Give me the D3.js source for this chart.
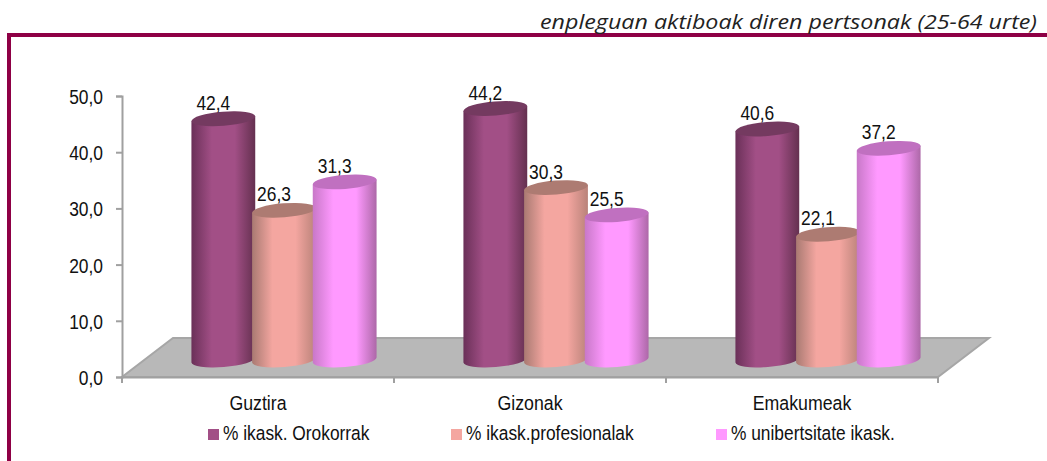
<!DOCTYPE html>
<html>
<head>
<meta charset="utf-8">
<script src="https://cdn.jsdelivr.net/npm/d3@7"></script>
<style>
  html, body { margin: 0; padding: 0; background: #fff; }
  svg { display: block; }
  text { font-family: "Liberation Sans", Arial, sans-serif; fill: #111; }
</style>
</head>
<body>
<script>
const categories = ["Guztira", "Gizonak", "Emakumeak"];
const seriesNames = ["% ikask. Orokorrak", "% ikask.profesionalak", "% unibertsitate ikask."];
const orokorrak = [42.4, 44.2, 40.6];
const profesionalak = [26.3, 30.3, 22.1];
const unibertsitate = [31.3, 25.5, 37.2];
const yTicks = [0, 10, 20, 30, 40, 50];
const titleText = "enpleguan aktiboak diren pertsonak (25-64 urte)";

const seriesValues = [orokorrak, profesionalak, unibertsitate];
const seriesColors = [
    { id: "plum", dark: "#6a3058", mid: "#a24f86", end: "#64304f", top: "#743a60", legend: "#a24f86" },
    { id: "salmon", dark: "#a97a72", mid: "#f4a6a0", end: "#b98279", top: "#ad7b72", legend: "#f4a6a0" },
    { id: "pink", dark: "#c878c8", mid: "#ff99ff", end: "#ad68a8", top: "#c070c0", legend: "#ff99ff" }
];

const width = 1047, height = 461;
const numFmt = v => v.toFixed(1).replace(".", ",");

const svg = d3.select("body").append("svg")
    .attr("width", width)
    .attr("height", height);

const defs = svg.append("defs");
seriesColors.forEach(c => {
    const g = defs.append("linearGradient").attr("id", "grad-" + c.id);
    g.append("stop").attr("offset", "0%").attr("stop-color", c.dark);
    g.append("stop").attr("offset", "32%").attr("stop-color", c.mid);
    g.append("stop").attr("offset", "68%").attr("stop-color", c.mid);
    g.append("stop").attr("offset", "100%").attr("stop-color", c.end);
});

// frame
const frameColor = "#8e0045";
svg.append("rect").attr("x", 7).attr("y", 33).attr("width", width - 7).attr("height", 4).attr("fill", frameColor);
svg.append("rect").attr("x", 7).attr("y", 33).attr("width", 4).attr("height", height - 33).attr("fill", frameColor);

svg.append("text")
    .attr("x", 1037)
    .attr("y", 29)
    .attr("text-anchor", "end")
    .attr("textLength", 497)
    .attr("lengthAdjust", "spacingAndGlyphs")
    .style("font-family", "'Open Sans'")
    .style("font-style", "italic")
    .style("font-size", "20px")
    .style("fill", "#222")
    .text(titleText);

// scales
const x = d3.scaleBand().domain(categories).range([122, 938]);
const y = d3.scaleLinear().domain([0, 50]).range([377, 96]);
// the 3d bars stand further back on the floor
const barY = d3.scaleLinear().domain([0, 50]).range([360, 75.5]);
const depthX = 51, depthY = -39;
const inner = d3.scaleBand().domain(d3.range(3)).range([-91, 91]);

// floor
const floorLine = [
    [x.range()[0], y(0)],
    [x.range()[1], y(0)],
    [x.range()[1] + depthX, y(0) + depthY],
    [x.range()[0] + depthX, y(0) + depthY]
];
svg.append("polygon")
    .attr("points", floorLine.join(" "))
    .attr("fill", "#b8b8b8")
    .attr("stroke", "#a6a6a6")
    .attr("stroke-width", 2);

// axes
const axisColor = "#a0a0a0";
const yAxis = svg.append("g")
    .attr("transform", `translate(${x.range()[0]},0)`)
    .call(d3.axisLeft(y).tickValues(yTicks).tickSize(6).tickPadding(0).tickFormat(() => ""));
yAxis.selectAll("path, line").attr("stroke", axisColor).attr("stroke-width", 2);

const xAxis = svg.append("g")
    .attr("transform", `translate(0,${y(0)})`)
    .call(d3.axisBottom(x).tickValues([]).tickSize(0));
xAxis.select("path").attr("stroke", axisColor).attr("stroke-width", 2);

svg.selectAll(".xtick")
    .data(d3.range(categories.length + 1))
    .enter().append("line")
    .attr("class", "xtick")
    .attr("x1", i => x.range()[0] + i * x.bandwidth())
    .attr("x2", i => x.range()[0] + i * x.bandwidth())
    .attr("y1", y(0))
    .attr("y2", y(0) + 6)
    .attr("stroke", axisColor)
    .attr("stroke-width", 2);

const squeezed = (sel, px, py, size, sx) => sel
    .attr("transform", `translate(${px},${py}) scale(${sx},1)`)
    .style("font-size", size + "px");

yTicks.forEach(t => {
    svg.append("text")
        .attr("text-anchor", "end")
        .call(squeezed, 103, y(t) + 8, 20, 0.87)
        .text(numFmt(t));
});

categories.forEach(c => {
    svg.append("text")
        .attr("text-anchor", "middle")
        .call(squeezed, x(c) + x.bandwidth() / 2, 410, 19.5, 0.91)
        .text(c);
});

// cylinders
const rx = 32, ry = 7, tilt = -4.5;
const ex = rx * Math.cos(tilt * Math.PI / 180);
const ey = rx * Math.sin(tilt * Math.PI / 180);
const barCx = (c, si) => x(c) + x.bandwidth() / 2 + depthX / 2 + 0.5 + inner(si) + inner.bandwidth() / 2;

categories.forEach((c, ci) => {
    seriesValues.forEach((vals, si) => {
        const v = vals[ci];
        const cx = barCx(c, si);
        const top = barY(v), base = barY(0);
        const col = seriesColors[si];

        svg.append("path")
            .attr("d", `M${cx - ex},${top - ey} L${cx - ex},${base - ey} ` +
                `A${rx},${ry} ${tilt} 0 0 ${cx + ex},${base + ey} L${cx + ex},${top + ey} Z`)
            .attr("fill", `url(#grad-${col.id})`);

        svg.append("ellipse")
            .attr("transform", `translate(${cx},${top}) rotate(${tilt})`)
            .attr("rx", rx)
            .attr("ry", ry)
            .attr("fill", col.top);
    });
});

// value labels sit on top of every bar
categories.forEach((c, ci) => {
    seriesValues.forEach((vals, si) => {
        svg.append("text")
            .attr("text-anchor", "middle")
            .call(squeezed, barCx(c, si) - 10, barY(vals[ci]) - 9, 20, 0.87)
            .text(numFmt(vals[ci]));
    });
});

// legend
const legendX = [208, 451, 716];
seriesNames.forEach((name, i) => {
    svg.append("rect")
        .attr("x", legendX[i])
        .attr("y", 429)
        .attr("width", 11)
        .attr("height", 11)
        .attr("fill", seriesColors[i].legend);
    svg.append("text")
        .call(squeezed, legendX[i] + 15, 440, 19.5, 0.89)
        .text(name);
});
</script>
</body>
</html>
